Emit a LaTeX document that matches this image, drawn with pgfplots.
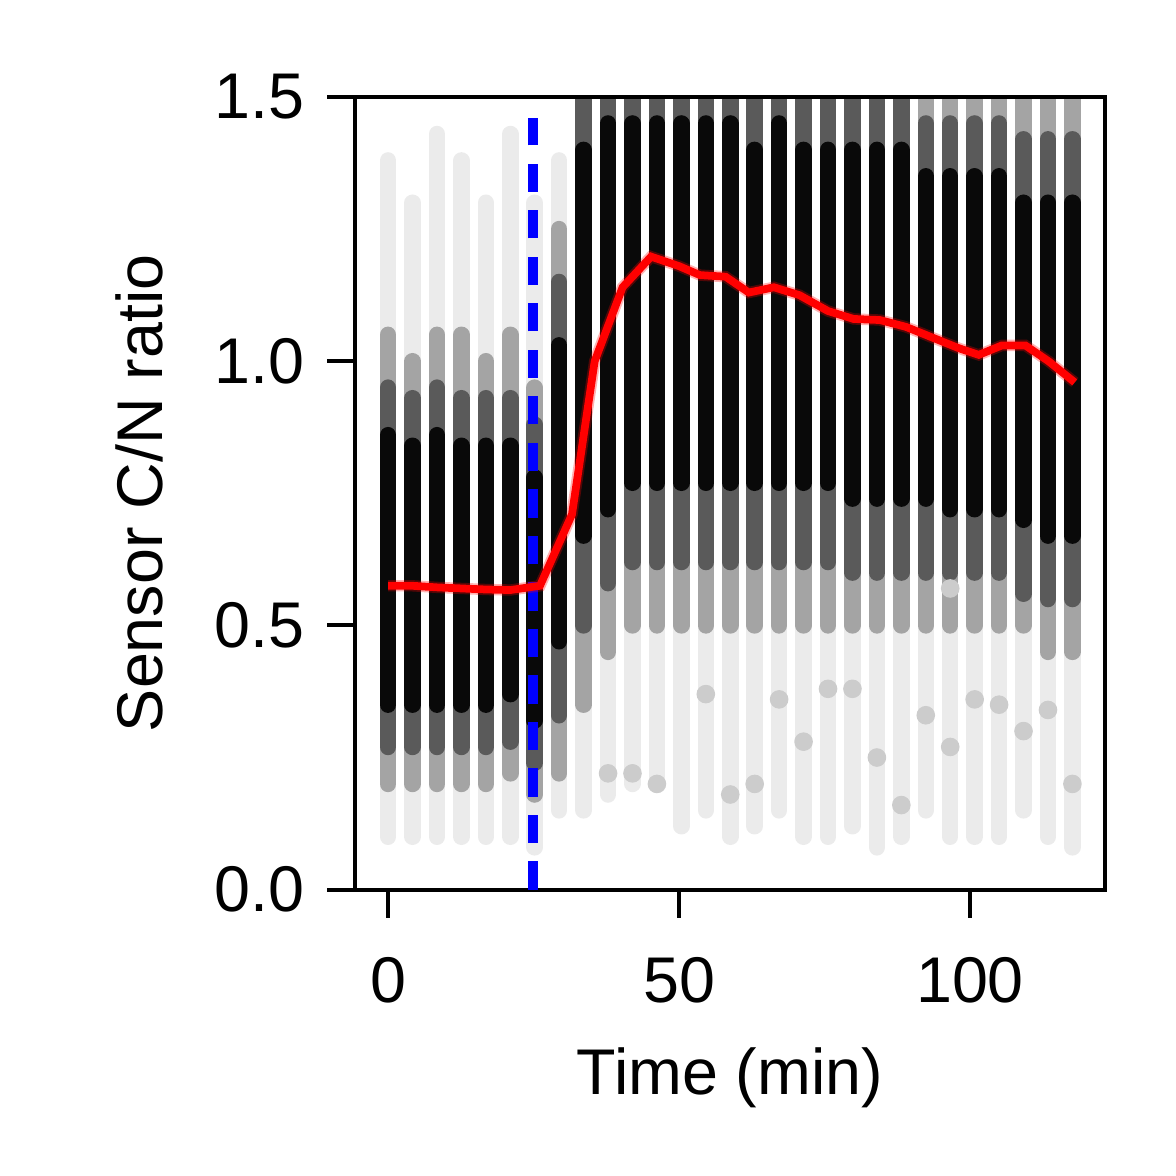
\documentclass[border=0pt]{standalone}
\usepackage{pgfplots}
\pgfplotsset{compat=1.18}
\usepackage{fontspec}
\setmainfont{Liberation Sans}
\begin{document}
\fontsize{12.5}{15}\selectfont
\begin{tikzpicture}
\useasboundingbox (-2.415,-1.946) rectangle (5.583,6.05);
\begin{axis}[at={(0,0)},anchor=south west,scale only axis,width=5.1cm,height=5.39cm,
 xmin=-5.67,xmax=123.2,ymin=0,ymax=1.5,
 xtick={0,50,100},ytick={0,0.5,1.0,1.5},
 yticklabel style={/pgf/number format/.cd,fixed,fixed zerofill,precision=1},
 /pgf/number format/assume math mode=true,
 tick align=outside,major tick length=0.19cm,tick style={line width=0.8pt,black},
 axis line style={line width=0.8pt},
 xtick pos=bottom,ytick pos=left,
 xlabel={Time (min)},ylabel={Sensor C/N ratio},
 xticklabel style={yshift=-0.12cm},
 ylabel style={yshift=0.05cm},
 unbounded coords=jump,clip=true]
% sparse layer
\addplot[line width=3.2pt,line cap=round,black,opacity=0.08] coordinates {
(0,0.1)(0,1.38)(0,nan)(4.2,0.1)(4.2,1.3)(4.2,nan)(8.4,0.1)(8.4,1.43)(8.4,nan)(12.6,0.1)(12.6,1.38)(12.6,nan)(16.8,0.1)(16.8,1.3)(16.8,nan)(21,0.1)(21,1.43)(21,nan)(25.2,0.08)(25.2,1.3)(25.2,nan)(29.4,0.15)(29.4,1.38)(29.4,nan)(33.6,0.15)(33.6,1.5)(33.6,nan)
(37.8,0.18)(37.8,1.5)(37.8,nan)(42,0.2)(42,1.5)(42,nan)(46.2,0.2)(46.2,1.5)(46.2,nan)(50.4,0.12)(50.4,1.5)(50.4,nan)(54.6,0.15)(54.6,1.5)(54.6,nan)(58.8,0.1)(58.8,1.5)(58.8,nan)(63,0.12)(63,1.5)(63,nan)(67.2,0.15)(67.2,1.5)(67.2,nan)(71.4,0.1)(71.4,1.5)(71.4,nan)(75.6,0.1)(75.6,1.5)(75.6,nan)(79.8,0.12)(79.8,1.5)(79.8,nan)(84,0.08)(84,1.5)(84,nan)(88.2,0.1)(88.2,1.5)(88.2,nan)(92.4,0.15)(92.4,1.5)(92.4,nan)(96.6,0.1)(96.6,1.5)(96.6,nan)(100.8,0.1)(100.8,1.5)(100.8,nan)(105,0.1)(105,1.5)(105,nan)(109.2,0.15)(109.2,1.5)(109.2,nan)(113.4,0.1)(113.4,1.5)(113.4,nan)(117.6,0.08)(117.6,1.5)(117.6,nan)};
% mid layer
\addplot[line width=3.2pt,line cap=round,black,opacity=0.3] coordinates {
(0,0.2)(0,1.05)(0,nan)(4.2,0.2)(4.2,1.0)(4.2,nan)(8.4,0.2)(8.4,1.05)(8.4,nan)(12.6,0.2)(12.6,1.05)(12.6,nan)(16.8,0.2)(16.8,1.0)(16.8,nan)(21,0.22)(21,1.05)(21,nan)(25.2,0.18)(25.2,0.95)(25.2,nan)(29.4,0.22)(29.4,1.25)(29.4,nan)(33.6,0.35)(33.6,1.5)(33.6,nan)
(37.8,0.45)(37.8,1.5)(37.8,nan)(42,0.5)(42,1.5)(42,nan)(46.2,0.5)(46.2,1.5)(46.2,nan)(50.4,0.5)(50.4,1.5)(50.4,nan)(54.6,0.5)(54.6,1.5)(54.6,nan)(58.8,0.5)(58.8,1.5)(58.8,nan)(63,0.5)(63,1.5)(63,nan)(67.2,0.5)(67.2,1.5)(67.2,nan)(71.4,0.5)(71.4,1.5)(71.4,nan)(75.6,0.5)(75.6,1.5)(75.6,nan)(79.8,0.5)(79.8,1.5)(79.8,nan)(84,0.5)(84,1.5)(84,nan)(88.2,0.5)(88.2,1.5)(88.2,nan)(92.4,0.5)(92.4,1.5)(92.4,nan)(96.6,0.5)(96.6,1.5)(96.6,nan)(100.8,0.5)(100.8,1.5)(100.8,nan)(105,0.5)(105,1.5)(105,nan)(109.2,0.5)(109.2,1.5)(109.2,nan)(113.4,0.45)(113.4,1.5)(113.4,nan)(117.6,0.45)(117.6,1.5)(117.6,nan)};
% transition layer
\addplot[line width=3.2pt,line cap=round,black,opacity=0.45] coordinates {
(0,0.27)(0,0.95)(0,nan)(4.2,0.27)(4.2,0.93)(4.2,nan)(8.4,0.27)(8.4,0.95)(8.4,nan)(12.6,0.27)(12.6,0.93)(12.6,nan)(16.8,0.27)(16.8,0.93)(16.8,nan)(21,0.28)(21,0.93)(21,nan)(25.2,0.24)(25.2,0.88)(25.2,nan)(29.4,0.33)(29.4,1.15)(29.4,nan)(33.6,0.5)(33.6,1.5)(33.6,nan)
(37.8,0.58)(37.8,1.5)(37.8,nan)(42,0.62)(42,1.5)(42,nan)(46.2,0.62)(46.2,1.5)(46.2,nan)(50.4,0.62)(50.4,1.5)(50.4,nan)(54.6,0.62)(54.6,1.5)(54.6,nan)(58.8,0.62)(58.8,1.5)(58.8,nan)(63,0.62)(63,1.5)(63,nan)(67.2,0.62)(67.2,1.5)(67.2,nan)(71.4,0.62)(71.4,1.5)(71.4,nan)(75.6,0.62)(75.6,1.5)(75.6,nan)(79.8,0.6)(79.8,1.5)(79.8,nan)(84,0.6)(84,1.5)(84,nan)(88.2,0.6)(88.2,1.5)(88.2,nan)(92.4,0.6)(92.4,1.45)(92.4,nan)(96.6,0.6)(96.6,1.45)(96.6,nan)(100.8,0.6)(100.8,1.45)(100.8,nan)(105,0.6)(105,1.45)(105,nan)(109.2,0.56)(109.2,1.42)(109.2,nan)(113.4,0.55)(113.4,1.42)(113.4,nan)(117.6,0.55)(117.6,1.42)(117.6,nan)};
% core layer
\addplot[line width=3.2pt,line cap=round,black,opacity=0.9] coordinates {
(0,0.35)(0,0.86)(0,nan)(4.2,0.35)(4.2,0.84)(4.2,nan)(8.4,0.35)(8.4,0.86)(8.4,nan)(12.6,0.35)(12.6,0.84)(12.6,nan)(16.8,0.35)(16.8,0.84)(16.8,nan)(21,0.37)(21,0.84)(21,nan)(25.2,0.32)(25.2,0.78)(25.2,nan)(29.4,0.47)(29.4,1.03)(29.4,nan)(33.6,0.67)(33.6,1.4)(33.6,nan)
(37.8,0.72)(37.8,1.45)(37.8,nan)(42,0.77)(42,1.45)(42,nan)(46.2,0.77)(46.2,1.45)(46.2,nan)(50.4,0.77)(50.4,1.45)(50.4,nan)(54.6,0.77)(54.6,1.45)(54.6,nan)(58.8,0.77)(58.8,1.45)(58.8,nan)(63,0.77)(63,1.4)(63,nan)(67.2,0.77)(67.2,1.45)(67.2,nan)(71.4,0.77)(71.4,1.4)(71.4,nan)(75.6,0.77)(75.6,1.4)(75.6,nan)(79.8,0.74)(79.8,1.4)(79.8,nan)(84,0.74)(84,1.4)(84,nan)(88.2,0.74)(88.2,1.4)(88.2,nan)(92.4,0.74)(92.4,1.35)(92.4,nan)(96.6,0.72)(96.6,1.35)(96.6,nan)(100.8,0.72)(100.8,1.35)(100.8,nan)(105,0.72)(105,1.35)(105,nan)(109.2,0.7)(109.2,1.3)(109.2,nan)(113.4,0.67)(113.4,1.3)(113.4,nan)(117.6,0.67)(117.6,1.3)(117.6,nan)};
% scattered outliers
\addplot[only marks,mark=*,mark size=1.6pt,color=black!20,mark options={draw=black!20,fill=black!20}] coordinates {
(42,0.22)(46.2,0.2)(54.6,0.37)(58.8,0.18)(67.2,0.36)(71.4,0.28)(75.6,0.38)(84,0.25)(88.2,0.16)(92.4,0.33)(96.6,0.27)(100.8,0.36)(105,0.35)(109.2,0.3)(113.4,0.34)(37.8,0.22)(63,0.2)(79.8,0.38)(96.6,0.57)(117.6,0.2)};
% blue dashed line
\addplot[blue,line width=2pt,dash pattern=on 5.5pt off 3.5pt] coordinates {(24.9,0)(24.9,1.46)};
% red mean line
\addplot[red,line width=2.2pt,opacity=0.3] coordinates {(0,0.575)(4.2,0.575)(8.4,0.572)(12.6,0.57)(16.8,0.568)(21,0.567)(26.1,0.575)(31.6,0.71)(35.5,1.0)(40.3,1.14)(45.2,1.198)(50,1.18)(53.6,1.163)(58,1.16)(62,1.13)(66.3,1.14)(70.7,1.125)(75.6,1.095)(80,1.08)(84.5,1.078)(89,1.065)(93.5,1.045)(98,1.025)(101.5,1.012)(105.5,1.03)(109.5,1.03)(113.5,1.0)(118,0.96)};
\addplot[red,line width=1.5pt] coordinates {(0,0.575)(4.2,0.575)(8.4,0.572)(12.6,0.57)(16.8,0.568)(21,0.567)(26.1,0.575)(31.6,0.71)(35.5,1.0)(40.3,1.14)(45.2,1.198)(50,1.18)(53.6,1.163)(58,1.16)(62,1.13)(66.3,1.14)(70.7,1.125)(75.6,1.095)(80,1.08)(84.5,1.078)(89,1.065)(93.5,1.045)(98,1.025)(101.5,1.012)(105.5,1.03)(109.5,1.03)(113.5,1.0)(118,0.96)};
\end{axis}
\end{tikzpicture}
\end{document}
